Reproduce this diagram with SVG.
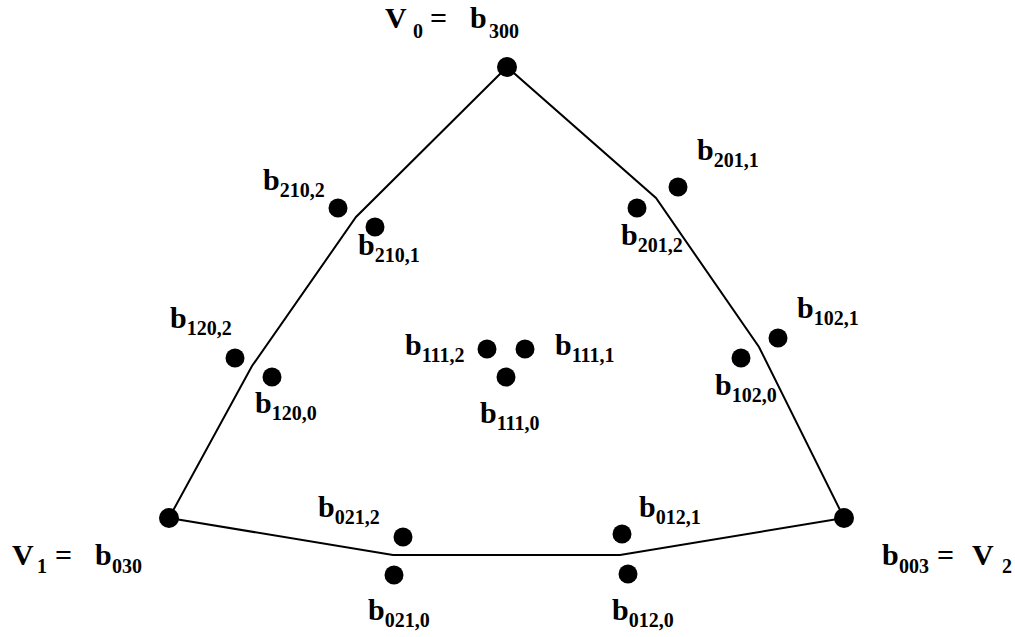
<svg xmlns="http://www.w3.org/2000/svg" width="1015" height="637" viewBox="0 0 1015 637">
<style>
.t{font-family:"Liberation Serif","Times New Roman",serif;font-weight:bold;font-size:30px;fill:#000}
.s{font-size:20px}
.dot{fill:#000}
.edge{fill:none;stroke:#000;stroke-width:2;stroke-linejoin:miter}
</style>
<rect width="1015" height="637" fill="#fff"/>
<g id="connectors">
<polygon class="edge" points="507,67 356,217 252,366 169,518 393,555 620,555 844,518 759,347 656,198"/>
</g>
<g id="V0"><circle class="dot" cx="507" cy="67" r="10"/>
<text class="t" x="385" y="28">V</text><text class="t s" x="413" y="38">0</text><text class="t" x="430" y="28">=</text><text class="t" x="470" y="28">b</text><text class="t s" x="489" y="38">300</text></g>
<g id="V1"><circle class="dot" cx="169" cy="518" r="10"/>
<text class="t" x="12" y="565">V</text><text class="t s" x="37" y="573">1</text><text class="t" x="55" y="565">=</text><text class="t" x="95" y="565">b</text><text class="t s" x="112" y="573">030</text></g>
<g id="V2"><circle class="dot" cx="844" cy="518" r="10"/>
<text class="t" x="882" y="565">b</text><text class="t s" x="899" y="573">003</text><text class="t" x="937" y="565">=</text><text class="t" x="972" y="565">V</text><text class="t s" x="1002" y="573">2</text></g>
<g id="b210_2"><circle class="dot" cx="338" cy="208" r="9.5"/><text class="t" x="263" y="190">b<tspan class="s" dy="7">210,2</tspan></text></g>
<g id="b210_1"><circle class="dot" cx="375" cy="227" r="9.5"/><text class="t" x="358" y="255">b<tspan class="s" dy="7">210,1</tspan></text></g>
<g id="b201_1"><circle class="dot" cx="678" cy="187" r="9.5"/><text class="t" x="697" y="160">b<tspan class="s" dy="7">201,1</tspan></text></g>
<g id="b201_2"><circle class="dot" cx="637" cy="208" r="9.5"/><text class="t" x="621" y="245">b<tspan class="s" dy="7">201,2</tspan></text></g>
<g id="b120_2"><circle class="dot" cx="235" cy="358" r="9.5"/><text class="t" x="170" y="328">b<tspan class="s" dy="7">120,2</tspan></text></g>
<g id="b120_0"><circle class="dot" cx="272" cy="377" r="9.5"/><text class="t" x="255" y="413">b<tspan class="s" dy="7">120,0</tspan></text></g>
<g id="b102_1"><circle class="dot" cx="778" cy="338" r="9.5"/><text class="t" x="797" y="318">b<tspan class="s" dy="7">102,1</tspan></text></g>
<g id="b102_0"><circle class="dot" cx="741" cy="358" r="9.5"/><text class="t" x="715" y="395">b<tspan class="s" dy="7">102,0</tspan></text></g>
<g id="b111_2"><circle class="dot" cx="487" cy="349" r="9.5"/><text class="t" x="405" y="355">b<tspan class="s" dy="7">111,2</tspan></text></g>
<g id="b111_1"><circle class="dot" cx="525" cy="349" r="9.5"/><text class="t" x="555" y="355">b<tspan class="s" dy="7">111,1</tspan></text></g>
<g id="b111_0"><circle class="dot" cx="506" cy="377" r="9.5"/><text class="t" x="480" y="423">b<tspan class="s" dy="7">111,0</tspan></text></g>
<g id="b021_2"><circle class="dot" cx="403" cy="537" r="9.5"/><text class="t" x="318" y="517">b<tspan class="s" dy="7">021,2</tspan></text></g>
<g id="b021_0"><circle class="dot" cx="394" cy="575" r="9.5"/><text class="t" x="368" y="620">b<tspan class="s" dy="7">021,0</tspan></text></g>
<g id="b012_1"><circle class="dot" cx="622" cy="534" r="9.5"/><text class="t" x="639" y="517">b<tspan class="s" dy="7">012,1</tspan></text></g>
<g id="b012_0"><circle class="dot" cx="628" cy="574" r="9.5"/><text class="t" x="612" y="620">b<tspan class="s" dy="7">012,0</tspan></text></g>
</svg>
